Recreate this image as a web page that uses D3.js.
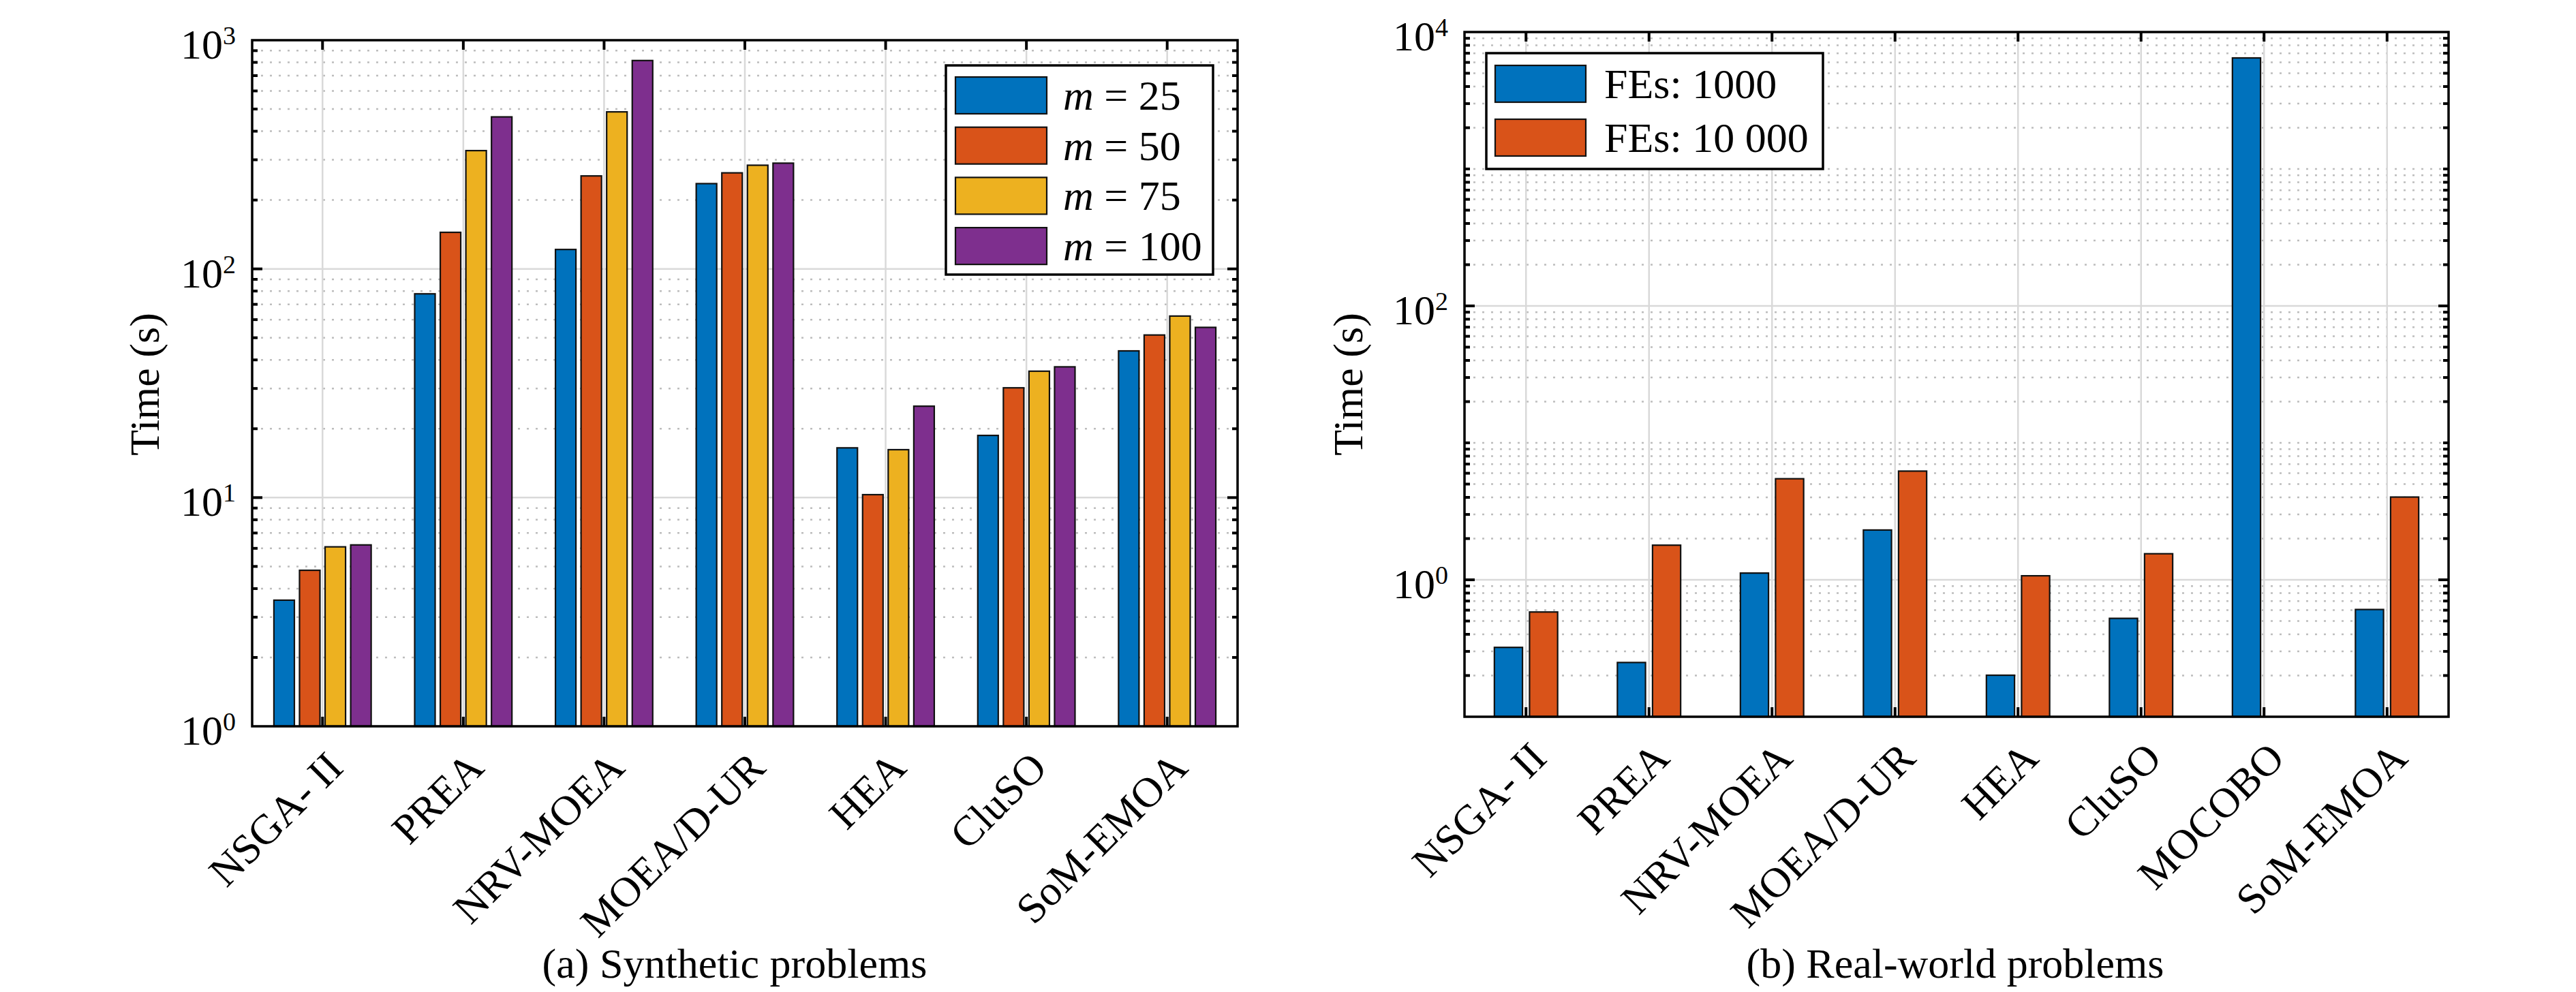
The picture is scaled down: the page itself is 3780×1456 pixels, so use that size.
<!DOCTYPE html>
<html>
<head>
<meta charset="utf-8">
<script src="https://cdn.jsdelivr.net/npm/d3@7"></script>
<style>
  body { margin: 0; background: #fff; }
  text { font-family: "Liberation Serif", "Times New Roman", serif; fill: #000; }
</style>
</head>
<body>
<svg id="chart"></svg>
<script>
// ---- data ----
var catsA = ["NSGA- II", "PREA", "NRV-MOEA", "MOEA/D-UR", "HEA", "CluSO", "SoM-EMOA"];
var m25  = [3.56, 77.8, 121.6, 236, 16.5, 18.7, 43.8];
var m50  = [4.81, 144.5, 255, 263, 10.3, 30.2, 51.4];
var m75  = [6.09, 329, 486, 284, 16.2, 35.7, 62.2];
var m100 = [6.21, 462, 815, 290, 25.1, 37.3, 55.5];
var legendA = ["25", "50", "75", "100"];

var catsB = ["NSGA- II", "PREA", "NRV-MOEA", "MOEA/D-UR", "HEA", "CluSO", "MOCOBO", "SoM-EMOA"];
var fes1000  = [0.321, 0.249, 1.12, 2.31, 0.201, 0.523, 6470, 0.607];
var fes10000 = [0.582, 1.79, 5.47, 6.22, 1.07, 1.55, null, 4.02];
var legendB = ["FEs: 1000", "FEs: 10 000"];

var colors = ["#0072BD", "#D95319", "#EDB120", "#7E2F8E"];
var W = 3780, H = 1456, FS = 62;

var svg = d3.select("#chart").attr("width", W).attr("height", H);

function drawPanel(cfg) {
  var g = svg.append("g");
  var n = cfg.cats.length, ns = cfg.series.length;
  var x = d3.scaleLinear().domain([0.5, n + 0.5]).range([cfg.left, cfg.right]);
  var y = d3.scaleLog().domain(cfg.yDomain).range([cfg.bottom, cfg.top]);

  // minor tick values: 2..9 of every decade plus unlabeled decades
  var lo = Math.log10(cfg.yDomain[0]), hi = Math.log10(cfg.yDomain[1]);
  var minor = [];
  for (var e = lo; e < hi; e++) {
    var d = Math.pow(10, e);
    if (e > lo && cfg.majors.indexOf(d) < 0) minor.push(d);
    for (var k = 2; k <= 9; k++) minor.push(k * d);
  }

  // minor grid (dotted)
  g.selectAll(".mg").data(minor).join("line")
    .attr("x1", cfg.left).attr("x2", cfg.right)
    .attr("y1", function(d) { return y(d); }).attr("y2", function(d) { return y(d); })
    .attr("stroke", "#bdbdbd").attr("stroke-width", 2.5).attr("stroke-dasharray", "3 10");

  // major grid
  g.selectAll(".hg").data(cfg.majors).join("line")
    .attr("x1", cfg.left).attr("x2", cfg.right)
    .attr("y1", function(d) { return y(d); }).attr("y2", function(d) { return y(d); })
    .attr("stroke", "#d9d9d9").attr("stroke-width", 2.5);
  g.selectAll(".vg").data(d3.range(1, n + 1)).join("line")
    .attr("x1", function(d) { return x(d); }).attr("x2", function(d) { return x(d); })
    .attr("y1", cfg.top).attr("y2", cfg.bottom)
    .attr("stroke", "#d9d9d9").attr("stroke-width", 2.5);

  // bars (MATLAB grouped bar geometry)
  var gw = Math.min(0.8, ns / (ns + 1.5));
  var pitch = gw / ns, bw = pitch * 0.8;
  cfg.series.forEach(function(vals, si) {
    var off = (si - (ns - 1) / 2) * pitch;
    var rows = vals.map(function(v, i) { return { v: v, i: i }; })
      .filter(function(r) { return r.v != null; });
    g.selectAll(null).data(rows).join("rect")
      .attr("x", function(r) { return x(r.i + 1 + off - bw / 2); })
      .attr("width", function() { return x(1 + bw) - x(1); })
      .attr("y", function(r) { return y(r.v); })
      .attr("height", function(r) { return cfg.bottom - y(r.v); })
      .attr("fill", colors[si]).attr("stroke", "#111").attr("stroke-width", 2.2);
  });

  // ticks: y left/right, x bottom/top, all inward
  var yt = [];
  minor.forEach(function(d) { yt.push({ v: d, len: 8 }); });
  cfg.majors.forEach(function(d) { yt.push({ v: d, len: 15 }); });
  [[cfg.left, 1], [cfg.right, -1]].forEach(function(side) {
    g.selectAll(null).data(yt).join("line")
      .attr("x1", side[0]).attr("x2", function(t) { return side[0] + side[1] * t.len; })
      .attr("y1", function(t) { return y(t.v); }).attr("y2", function(t) { return y(t.v); })
      .attr("stroke", "#000").attr("stroke-width", 4);
  });
  [[cfg.bottom, -1], [cfg.top, 1]].forEach(function(side) {
    g.selectAll(null).data(d3.range(1, n + 1)).join("line")
      .attr("x1", function(d) { return x(d); }).attr("x2", function(d) { return x(d); })
      .attr("y1", side[0]).attr("y2", side[0] + side[1] * 14)
      .attr("stroke", "#000").attr("stroke-width", 4);
  });

  // frame
  g.append("rect")
    .attr("x", cfg.left).attr("y", cfg.top)
    .attr("width", cfg.right - cfg.left).attr("height", cfg.bottom - cfg.top)
    .attr("fill", "none").attr("stroke", "#000").attr("stroke-width", 3.5);

  // y tick labels 10^k
  var lab = g.selectAll(null).data(cfg.labels).join("text")
    .attr("x", cfg.left - 24)
    .attr("y", function(d) { return y(d) + 27; })
    .attr("text-anchor", "end").attr("font-size", FS);
  lab.append("tspan").text("10");
  lab.append("tspan").attr("dy", -21).attr("font-size", 38)
    .text(function(d) { return Math.round(Math.log10(d)); });

  // category labels, rotated 45 deg
  g.selectAll(null).data(cfg.cats).join("text")
    .attr("transform", function(c, i) {
      return "translate(" + (x(i + 1) + 33) + "," + (cfg.bottom + 64) + ") rotate(-45)";
    })
    .attr("text-anchor", "end").attr("font-size", FS)
    .text(function(c) { return c; });

  // y axis title
  g.append("text")
    .attr("transform", "translate(" + cfg.ylabX + ",564) rotate(-90)")
    .attr("text-anchor", "middle").attr("font-size", FS).text("Time (s)");

  // caption
  g.append("text")
    .attr("x", cfg.capX).attr("y", 1435)
    .attr("text-anchor", "middle").attr("font-size", FS).text(cfg.caption);

  // legend
  var L = cfg.legend;
  g.append("rect")
    .attr("x", L.x).attr("y", L.y).attr("width", L.w).attr("height", L.h)
    .attr("fill", "#fff").attr("stroke", "#000").attr("stroke-width", 3.5);
  var items = g.selectAll(null).data(L.items).join("g")
    .attr("transform", function(d, i) { return "translate(0," + (L.y0 + i * L.step) + ")"; });
  items.append("rect")
    .attr("x", L.sx).attr("y", -27).attr("width", L.sw).attr("height", 54)
    .attr("fill", function(d, i) { return colors[i]; })
    .attr("stroke", "#111").attr("stroke-width", 2.2);
  var lt = items.append("text")
    .attr("x", L.tx).attr("y", 21).attr("font-size", FS);
  if (L.italic) {
    lt.append("tspan").attr("font-style", "italic").text("m");
    lt.append("tspan").text(function(d) { return " = " + d; });
  } else {
    lt.text(function(d) { return d; });
  }
}

drawPanel({
  cats: catsA, series: [m25, m50, m75, m100],
  left: 370, right: 1816, top: 59, bottom: 1066,
  yDomain: [1, 1000], majors: [10, 100], labels: [1, 10, 100, 1000],
  ylabX: 233, capX: 1078, caption: "(a) Synthetic problems",
  legend: { x: 1388, y: 96, w: 392, h: 307, y0: 140, step: 73.7,
            sx: 1402, sw: 134, tx: 1560, items: legendA, italic: true }
});

drawPanel({
  cats: catsB, series: [fes1000, fes10000],
  left: 2149, right: 3593, top: 47, bottom: 1052,
  yDomain: [0.1, 10000], majors: [1, 100], labels: [1, 100, 10000],
  ylabX: 1999, capX: 2869, caption: "(b) Real-world problems",
  legend: { x: 2181, y: 78, w: 494, h: 170, y0: 123, step: 79,
            sx: 2194, sw: 133, tx: 2354, items: legendB, italic: false }
});
</script>
</body>
</html>
